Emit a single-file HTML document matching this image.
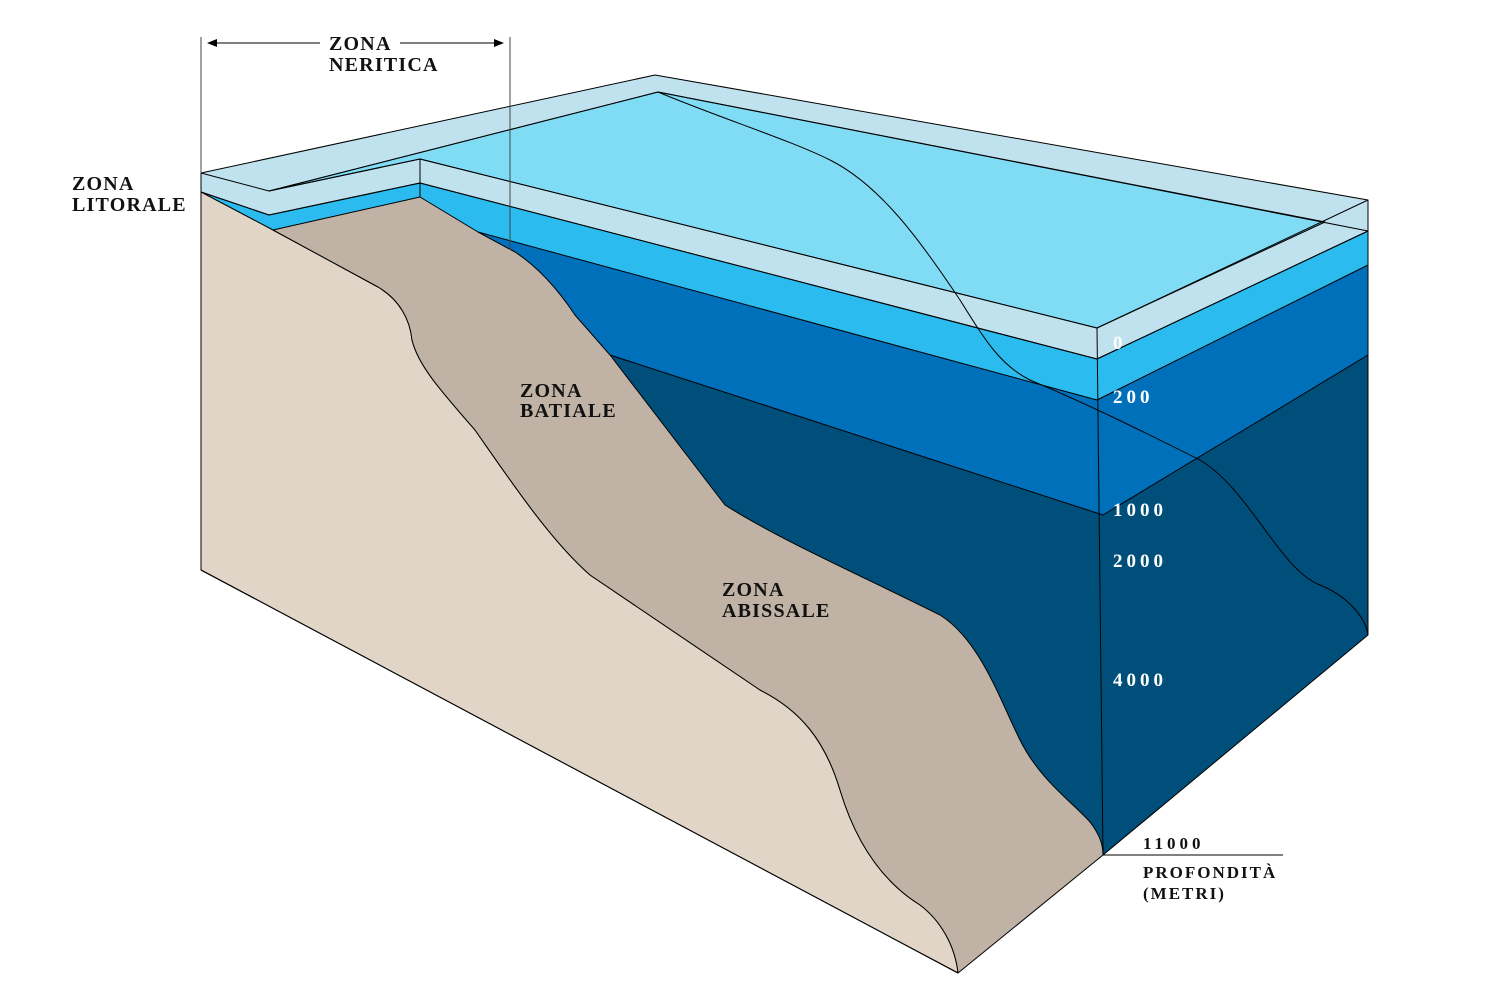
<!DOCTYPE html>
<html><head><meta charset="utf-8"><style>
html,body{margin:0;padding:0;background:#fff}
svg{display:block}
text{font-family:"Liberation Serif",serif;font-weight:bold}
</style></head><body>
<svg width="1500" height="1000" viewBox="0 0 1500 1000" xmlns="http://www.w3.org/2000/svg">
<defs><marker id="ah" markerWidth="10" markerHeight="8" refX="9" refY="4" orient="auto" markerUnits="userSpaceOnUse"><path d="M0,0 L10,4 L0,8 z" fill="#000"/></marker></defs>
<g stroke="#000" stroke-width="1" stroke-linejoin="round">
<!-- deep dark -->
<path d="M420,197 L1368,200 L1368,635 L1103,855 L700,650 Z" fill="#004f7a" stroke="none"/>
<!-- mid blue -->
<path d="M420,197 L1368,230 L1368,355 L1103,515 L610,355 L560,330 Z" fill="#0070bb" stroke="none"/>
<!-- cyan band -->
<path d="M201,192 L269,215 L420,183 L1097,359 L1368,231 L1368,265 L1097,400 L478,232 L420,197 L273,230 Z" fill="#2bbbef" stroke="none"/>
<!-- light slab -->
<path d="M201,173 L655,75 L1368,200 L1368,231 L1097,359 L420,183 L269,215 L201,192 Z" fill="#bfe2ee"/>
<!-- surface -->
<path d="M269,191 L658,92 L1325,222 L1097,328 L420,159 Z" fill="#80dcf4"/>
<!-- land front -->
<path d="M201,192 L273,230 L378,287 C400,300 410,320 412,340 C418,365 440,390 475,430 C510,480 550,540 590,575 L760,690 C800,710 825,740 840,790 C855,840 880,880 920,905 C940,920 955,945 958,973 L201,570 Z" fill="#e0d5c6"/>
<!-- slope top -->
<path d="M273,230 L420,197 L478,232 L515,252 C535,265 555,285 575,315 L610,355 L725,505 C780,540 860,575 940,615 C980,640 1000,700 1020,740 C1040,780 1070,800 1090,822 C1100,835 1103,845 1103,855 L958,973 C955,945 940,920 920,905 C880,880 855,840 840,790 C825,740 800,710 760,690 L590,575 C550,540 510,480 475,430 C440,390 418,365 412,340 C410,320 400,300 378,287 Z" fill="#c0b3a5"/>
<g fill="none">
<path d="M201,173 L269,191 L658,92 L1368,231"/>
<path d="M269,191 L420,159 L1097,328 L1368,200"/>
<path d="M201,192 L269,215 L420,183 L1097,359 L1368,231"/>
<path d="M420,159 L420,197"/>
<path d="M478,232 L1097,400 L1368,265"/>
<path d="M610,355 L1103,515 L1368,355"/>
<path d="M1097,328 L1103,855 L1368,635 L1368,200"/>
<path d="M201,173 L201,570 L958,973"/>
<path d="M201,37 L201,173 M510,37 L510,250" stroke="#444"/>
<path d="M658,92 C720,118 790,140 830,160 C880,185 920,240 960,300 C985,340 1000,365 1030,380 C1090,405 1150,435 1200,460 C1250,490 1280,570 1320,585 C1345,595 1365,615 1368,635"/>
<path d="M1103,855 L1283,855"/>
<path d="M320,43 L208,43" marker-end="url(#ah)"/>
<path d="M400,43 L503,43" marker-end="url(#ah)"/>
</g>
</g>
<g font-size="20" fill="#111" letter-spacing="1.2">
<text x="329" y="50">ZONA</text><text x="329" y="71">NERITICA</text>
<text x="72" y="190">ZONA</text><text x="72" y="211">LITORALE</text>
<text x="520" y="397">ZONA</text><text x="520" y="417">BATIALE</text>
<text x="722" y="596">ZONA</text><text x="722" y="617">ABISSALE</text>
</g>
<g font-size="19" fill="#fff" letter-spacing="4">
<text x="1113" y="349">0</text>
<text x="1113" y="403">200</text>
<text x="1113" y="516">1000</text>
<text x="1113" y="567">2000</text>
<text x="1113" y="686">4000</text>
</g>
<g font-size="17" fill="#111">
<text x="1143" y="849" letter-spacing="4">11000</text>
<text x="1143" y="878" letter-spacing="2">PROFONDITÀ</text>
<text x="1143" y="899" letter-spacing="2">(METRI)</text>
</g>
</svg>
</body></html>
